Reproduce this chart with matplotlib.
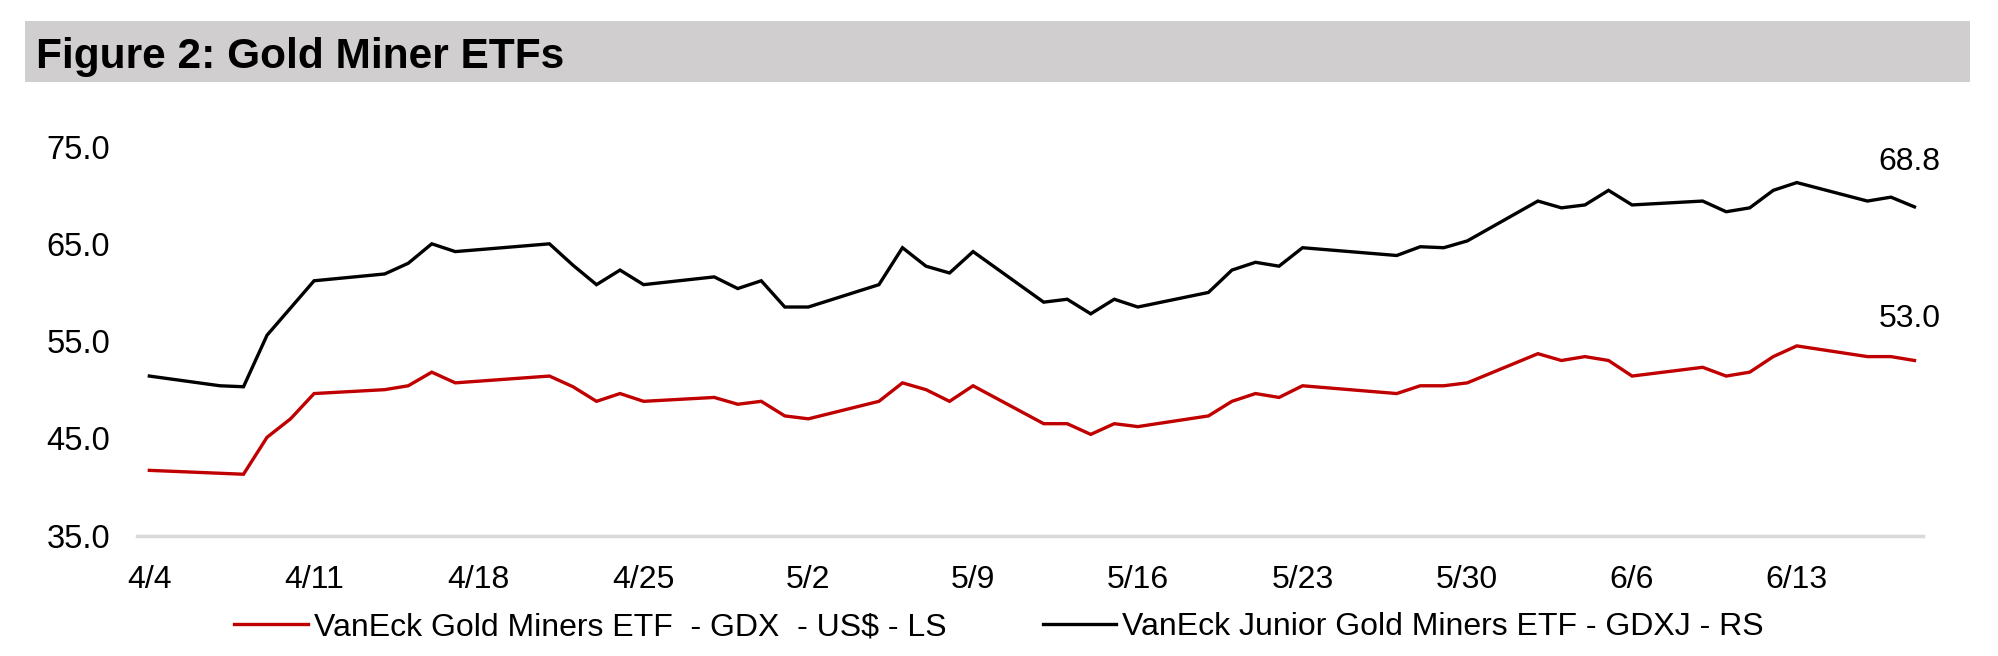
import matplotlib
matplotlib.use('Agg')
import matplotlib.pyplot as plt
import pandas as pd
from matplotlib.patches import Rectangle

# trading days shown on the chart (2025)
dates = ['2025-04-04', '2025-04-07', '2025-04-08', '2025-04-09', '2025-04-10', '2025-04-11',
         '2025-04-14', '2025-04-15', '2025-04-16', '2025-04-17',
         '2025-04-21', '2025-04-22', '2025-04-23', '2025-04-24', '2025-04-25',
         '2025-04-28', '2025-04-29', '2025-04-30', '2025-05-01', '2025-05-02',
         '2025-05-05', '2025-05-06', '2025-05-07', '2025-05-08', '2025-05-09',
         '2025-05-12', '2025-05-13', '2025-05-14', '2025-05-15', '2025-05-16',
         '2025-05-19', '2025-05-20', '2025-05-21', '2025-05-22', '2025-05-23',
         '2025-05-27', '2025-05-28', '2025-05-29', '2025-05-30',
         '2025-06-02', '2025-06-03', '2025-06-04', '2025-06-05', '2025-06-06',
         '2025-06-09', '2025-06-10', '2025-06-11', '2025-06-12', '2025-06-13',
         '2025-06-16', '2025-06-17', '2025-06-18']

gdx = [41.7, 41.4, 41.3, 45.1, 47.0, 49.6, 50.0, 50.4, 51.8, 50.7,
       51.4, 50.3, 48.8, 49.6, 48.8, 49.2, 48.5, 48.8, 47.3, 47.0,
       48.8, 50.7, 50.0, 48.8, 50.4, 46.5, 46.5, 45.4, 46.5, 46.2,
       47.3, 48.8, 49.6, 49.2, 50.4, 49.6, 50.4, 50.4, 50.7, 53.7,
       53.0, 53.4, 53.0, 51.4, 52.3, 51.4, 51.8, 53.4, 54.5, 53.4,
       53.4, 53.0]

gdxj = [51.4, 50.4, 50.3, 55.6, 58.4, 61.2, 61.9, 63.0, 65.0, 64.2,
        65.0, 62.8, 60.8, 62.3, 60.8, 61.6, 60.4, 61.2, 58.5, 58.5,
        60.8, 64.6, 62.7, 62.0, 64.2, 59.0, 59.3, 57.8, 59.3, 58.5,
        60.0, 62.3, 63.1, 62.7, 64.6, 63.8, 64.7, 64.6, 65.3, 69.4,
        68.7, 69.0, 70.5, 69.0, 69.4, 68.3, 68.7, 70.5, 71.3, 69.4,
        69.8, 68.8]

tick_dates = ['2025-04-04', '2025-04-11', '2025-04-18', '2025-04-25', '2025-05-02',
              '2025-05-09', '2025-05-16', '2025-05-23', '2025-05-30', '2025-06-06',
              '2025-06-13']
tick_labels = ['4/4', '4/11', '4/18', '4/25', '5/2', '5/9', '5/16', '5/23',
               '5/30', '6/6', '6/13']
y_ticks = [35, 45, 55, 65, 75]

plt.rcParams['font.family'] = ['Liberation Sans', 'DejaVu Sans']

W, H = 1999, 656
fig = plt.figure(figsize=(W / 100, H / 100), dpi=100)

# grey title bar
fig.patches.append(Rectangle((25 / W, 1 - 82 / H), (1970 - 25) / W, 61 / H,
                             transform=fig.transFigure, facecolor='#d0cece',
                             edgecolor='none', zorder=0))
fig.text(36 / W, 1 - 68 / H, 'Figure 2: Gold Miner ETFs', fontsize=30.5,
         fontweight='bold', va='baseline', ha='left')

ax = fig.add_axes([136.6 / W, 1 - 535.5 / H, (1923.3 - 136.6) / W, (535.5 - 146.6) / H])
x = pd.to_datetime(dates)
ax.plot(x, gdx, color='#c00000', lw=2.4, label='VanEck Gold Miners ETF  - GDX  - US$ - LS',
        solid_joinstyle='miter', clip_on=False)
ax.plot(x, gdxj, color='black', lw=2.4, label='VanEck Junior Gold Miners ETF - GDXJ - RS',
        solid_joinstyle='miter', clip_on=False)

ax.set_ylim(35, 75)
ax.set_yticks(y_ticks)
ax.set_yticklabels(['%.1f' % v for v in y_ticks])
ax.set_xlim(x[0] - pd.Timedelta(hours=13), x[-1] + pd.Timedelta(hours=9))
ax.set_xticks(pd.to_datetime(tick_dates))
ax.set_xticklabels(tick_labels)
ax.tick_params(axis='both', length=0, labelsize=23)
ax.tick_params(axis='y', pad=19, labelsize=23.5)
ax.tick_params(axis='x', pad=21)

for s in ['top', 'right', 'left']:
    ax.spines[s].set_visible(False)
ax.spines['bottom'].set_color('#d9d9d9')
ax.spines['bottom'].set_linewidth(2.5)
ax.spines['bottom'].set_zorder(0)

# end-of-series value labels
ax.annotate('%.1f' % gdxj[-1], (x[-1], gdxj[-1]), xytext=(-3.5, 32.5),
            textcoords='offset points', ha='center', va='center', fontsize=23)
ax.annotate('%.1f' % gdx[-1], (x[-1], gdx[-1]), xytext=(-3.5, 30),
            textcoords='offset points', ha='center', va='center', fontsize=23)

fig.legend(loc='center', bbox_to_anchor=(0.4998, 29 / H), ncol=2, frameon=False,
           fontsize=23, handlelength=2.3, handletextpad=0.2, columnspacing=3.0)

fig.savefig('out.png', dpi=100)
